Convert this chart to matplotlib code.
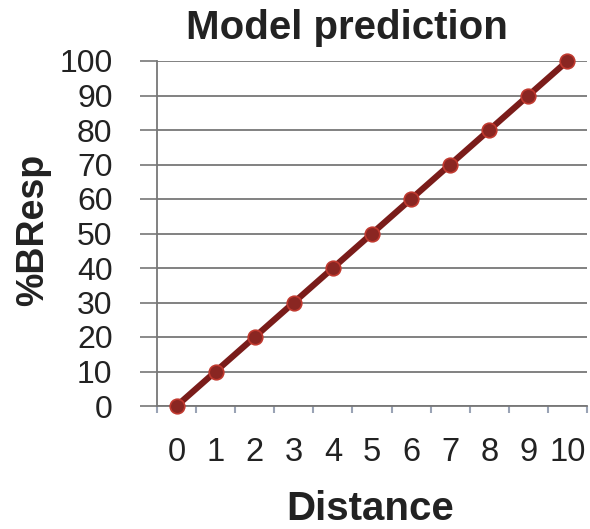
import matplotlib
matplotlib.use("Agg")
import matplotlib.pyplot as plt

distance = [0, 1, 2, 3, 4, 5, 6, 7, 8, 9, 10]
bresp = [0, 10, 20, 30, 40, 50, 60, 70, 80, 90, 100]
yticks = [0, 10, 20, 30, 40, 50, 60, 70, 80, 90, 100]

plt.rcParams['font.family'] = ['Liberation Sans', 'DejaVu Sans']

fig = plt.figure(figsize=(5.9, 5.29), dpi=100)
ax = fig.add_axes([157/590, 1-406/529, 430/590, 345/529])

ax.plot(distance, bresp, color='#7a1c1a', lw=4.5, marker='o', ms=10.5,
        markerfacecolor='#8a2622', markeredgecolor='#c0392f', markeredgewidth=1.2,
        solid_capstyle='round', zorder=3, clip_on=False)

ax.set_xlim(-0.5, 10.5)
ax.set_ylim(0, 100)
ax.set_yticks(yticks)
ax.set_yticklabels([str(v) for v in yticks], fontsize=23, color='#222222')
ax.set_xticks(distance)
ax.set_xticklabels([str(v) for v in distance], fontsize=23.5, color='#222222')
ax.tick_params(axis='x', length=0, pad=22)
ax.set_xticks([d + 0.5 for d in [-1] + distance], minor=True)
ax.tick_params(axis='x', which='minor', length=5, width=1.5, color='#9aa3b5', direction='out')
ax.tick_params(axis='y', length=12, width=1.2, color='#777777', pad=20, direction='out')

ax.grid(axis='y', color='#777777', lw=1.3)
ax.set_axisbelow(True)
for s in ['top', 'right']:
    ax.spines[s].set_visible(False)
ax.spines['left'].set_color('#777777')
ax.spines['left'].set_linewidth(1.3)
ax.spines['bottom'].set_color('#777777')
ax.spines['bottom'].set_linewidth(1.3)

fig.text(347/590, 1-39/529, 'Model prediction', fontsize=29, fontweight='bold',
         ha='center', va='baseline', color='#222222')
fig.text(33/590, 1-230/529, '%BResp', fontsize=27, fontweight='bold',
         ha='center', va='center', rotation=90, color='#222222')
fig.text(370/590, 1-520/529, 'Distance', fontsize=29, fontweight='bold',
         ha='center', va='baseline', color='#222222')

fig.savefig('out.png', dpi=100)
